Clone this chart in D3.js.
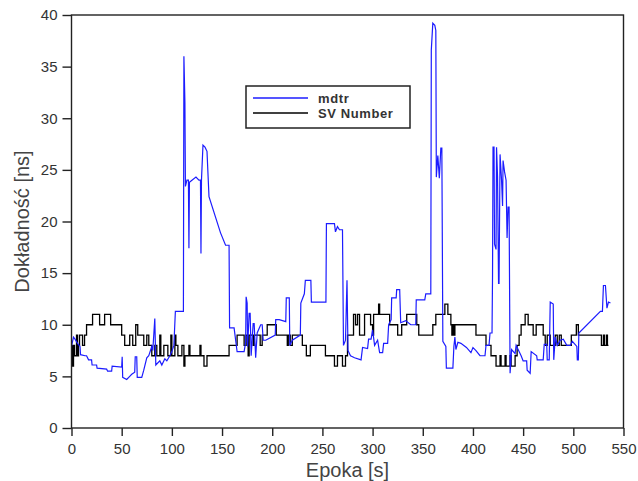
<!DOCTYPE html>
<html>
<head>
<meta charset="utf-8">
<script src="https://cdn.jsdelivr.net/npm/d3@7"></script>
<style>
  html, body { margin: 0; padding: 0; background: #fff; }
  svg { display: block; font-family: "Liberation Sans", Arial, sans-serif; }
</style>
</head>
<body>
<svg id="chart" width="638" height="481"></svg>
<script>
// mdtr accuracy [ns] vs epoch [s]
const mdtrTime = [0,2,3.5,6,8.5,9,13.5,15,17,20,20.5,25,25.5,35,36,40,40.5,50,50.5,51,55,58,60,63,63.5,65,65.5,70,72,75,77,80,81,83,84,88,90,93,95,98,100,102,103.5,107,111.5,112,113,113.5,115,116.5,117,117.5,120,124,127,128.5,129,129.5,131,133,135,137,148.5,153.5,157,157.5,162,165,172,173.5,174,175,175.5,177,178,179,181,182,183.5,185,188.5,190,191,193.5,203,203.5,207,213.5,214,217,217.5,220,228,228.5,232,233,238.5,239,253.5,254,262,263,265,267,270,271,273,274.5,275.5,278,282,288.5,290,295,296,298.5,300,302,305,307,310,311,315,316,318.5,319,323.5,324,327,328,333,338,343,343.5,352,353,358,358.5,360,362,363,363.5,365,366.5,368,369,370,373,373.5,380,381,382,383,385,388,393.5,398,400,403,407,412,413,416,417,419,419.5,420,421,421.5,423,423.5,424.5,425.5,426,427,428.5,429.5,430,431.5,433,434,435,436,437,438.5,442,443,445,448,450,453.5,454,457,458,463.5,464,470,471,473.5,474,476,477,480,480.5,482,484,487,490,493.5,497,499,503.5,504,505,505.5,527,529,530,532,533.5,535,537];
const mdtrValue = [7.9,8.8,8.6,8.2,7.9,7.1,7.0,7.0,6.6,6.6,6.1,6.1,5.8,5.7,5.5,5.5,6.0,5.9,6.9,4.9,4.7,5.0,5.2,5.4,6.9,6.9,4.9,4.9,5.6,6.8,7.0,7.9,7.5,10.6,6.1,6.5,6.1,6.7,6.5,7.0,7.4,8.0,11.3,11.3,11.3,36.0,31.5,23.4,24.0,24.0,17.4,23.8,24.0,24.3,24.0,24.0,16.9,24.0,27.4,27.2,26.8,22.4,18.9,17.7,17.7,9.7,9.7,7.4,7.4,8.3,12.7,12.1,7.9,11.1,11.1,7.0,10.1,10.1,6.8,9.2,10.0,10.0,8.5,8.5,9.0,10.5,10.5,10.3,12.6,12.6,8.0,8.5,9.0,12.1,13.0,14.3,14.3,12.2,12.2,19.8,19.8,19.0,19.5,19.2,19.2,8.0,8.5,14.3,7.5,7.0,6.8,6.6,7.8,7.7,8.6,8.6,9.5,8.0,8.5,7.3,7.3,8.2,8.2,10.0,10.5,12.6,12.6,13.4,13.4,10.2,10.4,10.0,10.0,12.4,12.4,13.0,13.0,36.6,39.2,39.0,38.5,24.3,26.4,24.2,27.1,27.1,8.4,7.9,5.8,5.8,7.9,8.8,7.6,8.3,8.2,7.8,7.3,7.8,7.5,7.0,7.0,8.0,8.0,9.2,9.2,14.6,27.2,27.2,17.8,17.3,27.2,24.3,14.0,14.0,26.5,24.0,21.5,25.9,24.8,24.0,18.4,21.4,21.4,5.3,7.6,7.2,8.0,7.6,7.0,6.5,6.5,5.6,5.3,7.4,7.0,6.6,6.6,8.1,8.1,6.6,6.6,12.2,12.0,6.6,8.8,8.0,8.5,8.6,8.0,8.0,8.4,7.9,6.6,6.6,9.2,11.3,11.3,13.8,13.8,11.6,12.2,12.1];

// number of satellites, stepwise
const svTime = [0,1,2,3,5,6,7,8,11,13,15,21,28,33,39,50,53,58,61,64,66,72,75,77,80,83,85,88,89,92,96,99,100,103,104,106,110,112,113,117,118,128,129,132,135,157,165,172,174,176,177,181,182,188,190,195,204,215,216,218,220,230,234,238,253,262,265,270,273,275,281,283,285,287,292,298,300,301,306,307,317,325,329,334,344,346,360,363,372,375,378,379,380,381,382,403,413,418,423,427,428,432,433,437,438,442,444,446,448,452,455,460,463,470,472,474,477,482,484,486,488,498,503,505,528,530,531,533,534,535];
const svValue = [8,6,8,7,9,7,8,9,8,9,10,11,10,11,10,9,8,9,8,10,9,8,9,8,7,8,7,9,7,8,7,9,7,9,8,7,8,6,7,8,7,8,7,6,7,8,9,8,9,7,9,8,9,8,9,10,9,8,9,8,9,8,7,8,7,6,7,6,7,9,11,10,11,9,11,10,9,11,12,11,10,9,10,11,10,9,10,11,12,11,10,9,10,9,10,9,8,7,6,7,6,7,6,7,6,7,8,9,10,11,10,9,10,9,8,9,8,9,8,9,8,9,10,9,8,9,8,9,8,8];

const xTicks = [0,50,100,150,200,250,300,350,400,450,500,550];
const yTicks = [0,5,10,15,20,25,30,35,40];
const seriesNames = ["mdtr", "SV Number"];
const seriesColors = ["#1c1cff", "#000000"];

const margin = { left: 71.5, right: 14.5, top: 15, bottom: 53 };
const width = 638, height = 481;

const svg = d3.select("#chart");

const x = d3.scaleLinear().domain([0, 550]).range([margin.left, width - margin.right]);
const y = d3.scaleLinear().domain([0, 40]).range([height - margin.bottom, margin.top]);

const mdtr = mdtrTime.map((t, i) => ({ t, v: mdtrValue[i] }));
const sv = svTime.map((t, i) => ({ t, v: svValue[i] }));

// axes
const xAxis = svg.append("g")
  .attr("transform", `translate(0,${y(0)})`)
  .call(d3.axisBottom(x).tickValues(xTicks).tickSize(8).tickSizeOuter(0).tickPadding(7));

const yAxis = svg.append("g")
  .attr("transform", `translate(${x(0)},0)`)
  .call(d3.axisLeft(y).tickValues(yTicks).tickSize(9).tickSizeOuter(0).tickPadding(5));

[xAxis, yAxis].forEach((g) => {
  g.select(".domain").remove();
  g.selectAll("line").attr("stroke", "#222").attr("stroke-width", 1.4);
  g.selectAll("text")
    .attr("font-size", 15)
    .attr("fill", "#333")
    .style("font-family", "'Liberation Sans', Arial, sans-serif");
});

// series
const lineMdtr = d3.line().x((d) => x(d.t)).y((d) => y(d.v));
const lineSv = d3.line().x((d) => x(d.t)).y((d) => y(d.v)).curve(d3.curveStepAfter);

svg.append("path")
  .datum(sv)
  .attr("fill", "none")
  .attr("stroke", seriesColors[1])
  .attr("stroke-width", 1.3)
  .attr("d", lineSv);

svg.append("path")
  .datum(mdtr)
  .attr("fill", "none")
  .attr("stroke", seriesColors[0])
  .attr("stroke-width", 1.2)
  .attr("d", lineMdtr);

// frame
svg.append("rect")
  .attr("x", x(0))
  .attr("y", y(40))
  .attr("width", x(550) - x(0))
  .attr("height", y(0) - y(40))
  .attr("fill", "none")
  .attr("stroke", "#222")
  .attr("stroke-width", 1.4);

// axis titles
svg.append("text")
  .attr("x", (x(0) + x(550)) / 2)
  .attr("y", 477)
  .attr("text-anchor", "middle")
  .attr("font-size", 20)
  .attr("fill", "#444")
  .text("Epoka [s]");

svg.append("text")
  .attr("transform", `translate(29,${(y(0) + y(40)) / 2}) rotate(-90)`)
  .attr("text-anchor", "middle")
  .attr("font-size", 20)
  .attr("fill", "#444")
  .text("Dokładność [ns]");

// legend
const legend = svg.append("g").attr("transform", "translate(246,86)");
legend.append("rect")
  .attr("width", 164)
  .attr("height", 42)
  .attr("fill", "#fff")
  .attr("stroke", "#222")
  .attr("stroke-width", 1.5);

seriesNames.forEach((name, i) => {
  const ly = 12 + i * 15;
  legend.append("line")
    .attr("x1", 7).attr("x2", 62)
    .attr("y1", ly).attr("y2", ly)
    .attr("stroke", seriesColors[i])
    .attr("stroke-width", 1.5);
  legend.append("text")
    .attr("x", 72)
    .attr("y", ly + 4.5)
    .attr("font-size", 13)
    .attr("font-weight", "bold")
    .attr("letter-spacing", 0.6)
    .attr("fill", "#333")
    .text(name);
});
</script>
</body>
</html>
